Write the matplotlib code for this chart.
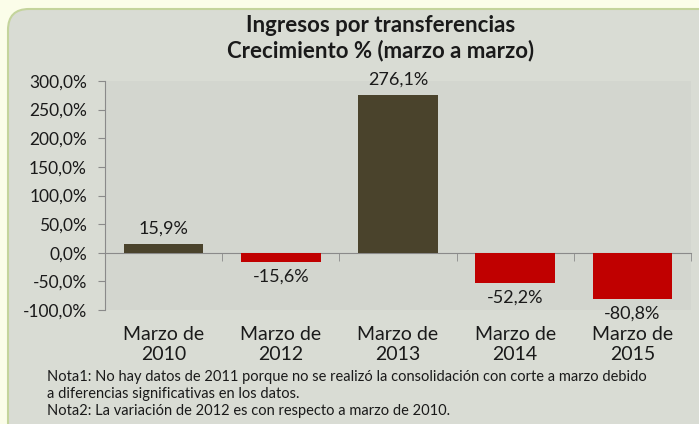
import matplotlib
matplotlib.use("Agg")
import matplotlib.pyplot as plt
import matplotlib.transforms as mtransforms
from matplotlib.patches import FancyBboxPatch
from matplotlib.ticker import FuncFormatter

categories = ["Marzo de\n2010", "Marzo de\n2012", "Marzo de\n2013", "Marzo de\n2014", "Marzo de\n2015"]
values = [15.9, -15.6, 276.1, -52.2, -80.8]
yticks = [-100, -50, 0, 50, 100, 150, 200, 250, 300]
title = "Ingresos por transferencias\nCrecimiento % (marzo a marzo)"
notes = ["Nota1: No hay datos de 2011 porque no se realizó la consolidación con corte a marzo debido",
         "a diferencias significativas en los datos.",
         "Nota2: La variación de 2012 es con respecto a marzo de 2010."]

plt.rcParams['font.family'] = ['Lato', 'DejaVu Sans']
W, H = 699, 424
fig = plt.figure(figsize=(W/100, H/100), dpi=100)
fig.patch.set_facecolor('#fbfde9')

panel = FancyBboxPatch((8/W, -20/H), (720-8)/W, (424+20-9)/H,
                       boxstyle="round,pad=0,rounding_size=0.03",
                       transform=fig.transFigure, facecolor='#d9dcd4',
                       edgecolor='#c4d49c', linewidth=1.5, mutation_aspect=W/H,
                       zorder=-10)
fig.patches.append(panel)

L, R, T, B = 105, 691, 81, 310
ax = fig.add_axes([L/W, (H-B)/H, (R-L)/W, (B-T)/H])
ax.set_facecolor('#d3d6cf')

colors = ['#4a432c' if v >= 0 else '#c00000' for v in values]
x = list(range(len(values)))
ax.bar(x, values, width=0.68, color=colors, zorder=3)
ax.set_xlim(-0.5, len(values) - 0.5)
ax.set_ylim(-100, 300)
ax.set_yticks(yticks)
ax.yaxis.set_major_formatter(FuncFormatter(lambda v, p: f"{v:.1f}%".replace('.', ',')))
ax.tick_params(axis='y', labelsize=12.5, length=5, color='#8a8a8a', labelcolor='#1a1a1a', pad=8)

for s in ['top', 'right']:
    ax.spines[s].set_visible(False)
ax.spines['left'].set_color('#8a8a8a')
ax.spines['bottom'].set_position(('data', 0))
ax.spines['bottom'].set_color('#8a8a8a')
ax.set_xticks([])
ax.set_xticks([i + 0.5 for i in range(len(values))], minor=True)
ax.tick_params(axis='x', which='minor', length=6, color='#8a8a8a', direction='out')

for xi, v in zip(x, values):
    off = 15 if v >= 0 else -15
    ax.annotate(f"{v:.1f}%".replace('.', ','), (xi, v), xytext=(0, off * 0.72),
                textcoords='offset points', ha='center', va='center', fontsize=13,
                color='#1a1a1a', zorder=4)

shift = ax.transData + mtransforms.ScaledTranslation(0, -16/100, fig.dpi_scale_trans)
for xi, c in zip(x, categories):
    ax.text(xi, -100, c, transform=shift, ha='center', va='top',
            fontsize=14, color='#1a1a1a', linespacing=1.25, clip_on=False)

fig.text(381/W, 1 - 38/H, title, ha='center', va='center', fontsize=16,
         fontweight='bold', color='#1a1a1a', linespacing=1.2)

for i, n in enumerate(notes):
    fig.text(47/W, 1 - (377 + 17*i)/H, n, ha='left', va='center', fontsize=10.5, color='#1a1a1a')

fig.savefig('out.png', dpi=100, facecolor=fig.get_facecolor())
